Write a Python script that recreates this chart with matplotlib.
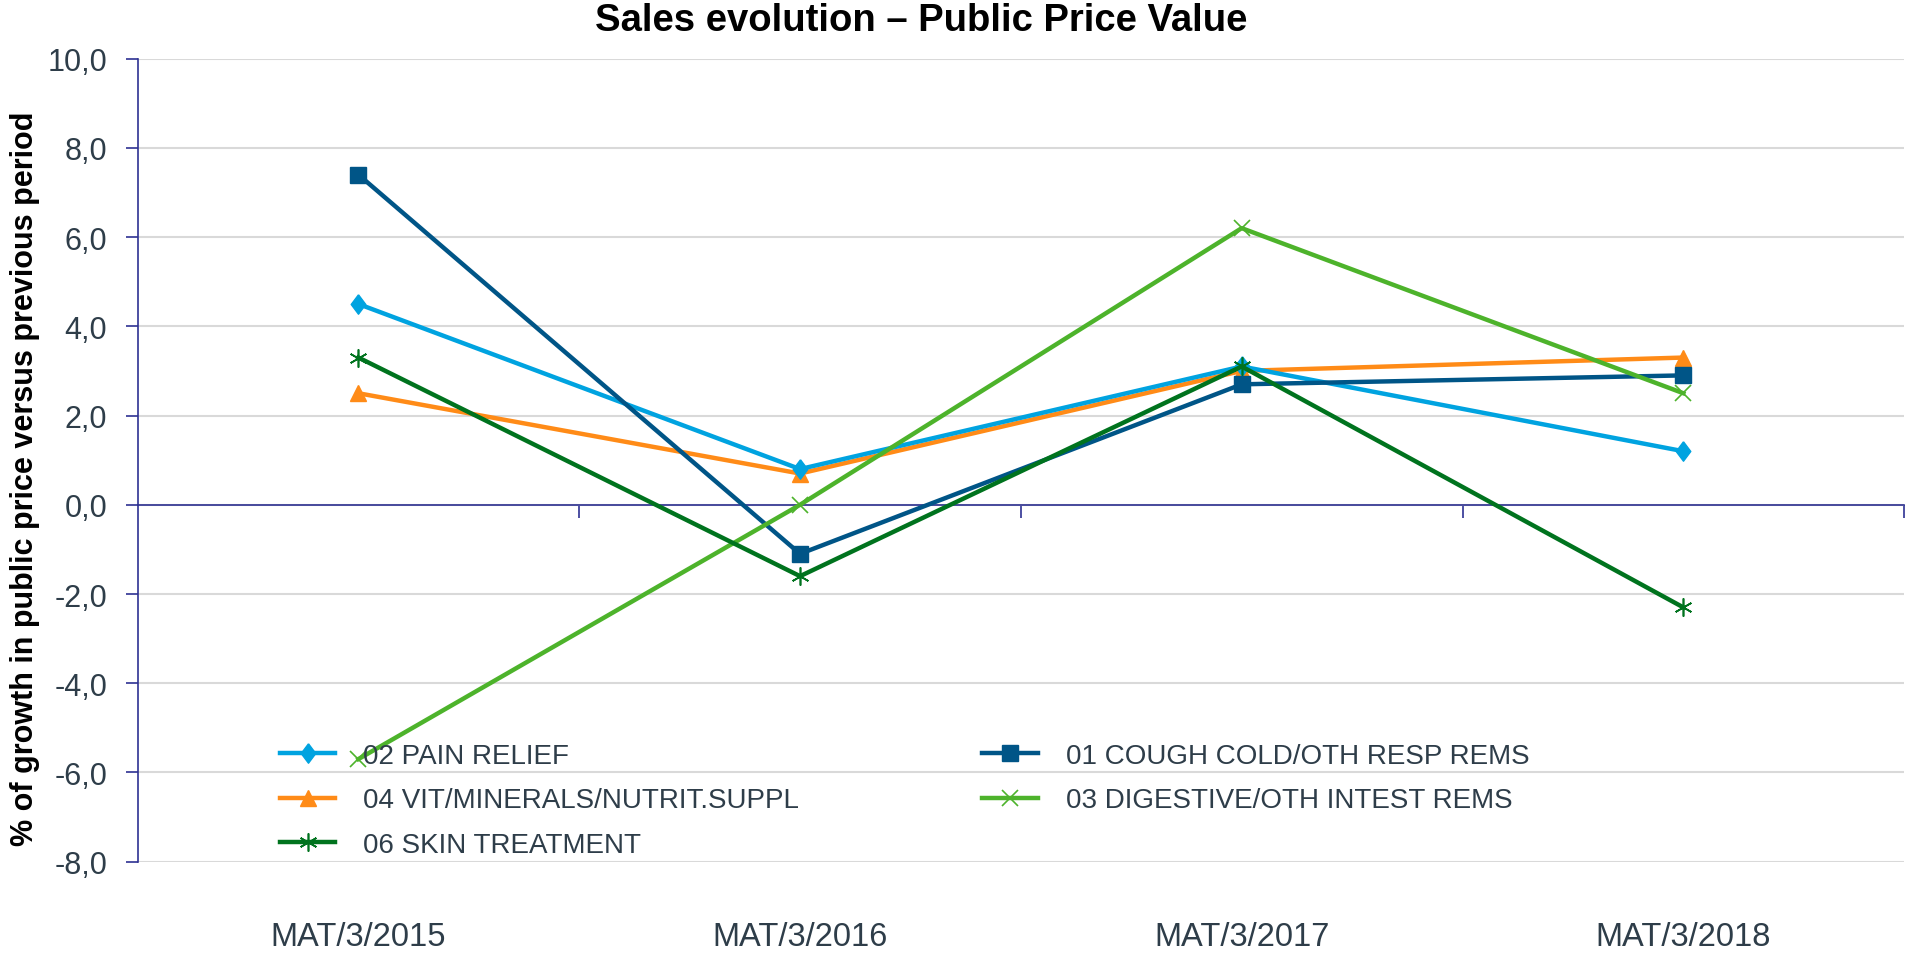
import matplotlib
matplotlib.use("Agg")
import matplotlib.pyplot as plt

categories = ["MAT/3/2015", "MAT/3/2016", "MAT/3/2017", "MAT/3/2018"]
pain_relief = [4.5, 0.8, 3.1, 1.2]
cough_cold = [7.4, -1.1, 2.7, 2.9]
vit_minerals = [2.5, 0.7, 3.0, 3.3]
digestive = [-5.7, 0.0, 6.2, 2.5]
skin_treatment = [3.3, -1.6, 3.1, -2.3]
yticks = [-8, -6, -4, -2, 0, 2, 4, 6, 8, 10]
ytick_labels = ["-8,0", "-6,0", "-4,0", "-2,0", "0,0", "2,0", "4,0", "6,0", "8,0", "10,0"]

plt.rcParams['font.family'] = ['Liberation Sans', 'DejaVu Sans']
TXT = "#2E3D49"
AXC = "#2E3192"

fig = plt.figure(figsize=(19.08, 9.54), dpi=100)
ax = fig.add_axes([0.0721, 0.0957, 0.9259, 0.8418])

x = list(range(len(categories)))
LW = 3.2
diamond = [(0, 1), (0.75, 0), (0, -1), (-0.75, 0), (0, 1)]
series = {}
series['pain'] = ax.plot(x, pain_relief, color="#00A3E0", lw=LW, marker=diamond, ms=14,
                         label="02 PAIN RELIEF", zorder=5)[0]
series['cough'] = ax.plot(x, cough_cold, color="#005587", lw=LW, marker='s', ms=11,
                          label="01 COUGH COLD/OTH RESP REMS", zorder=5)[0]
series['vit'] = ax.plot(x, vit_minerals, color="#FF8B17", lw=LW, marker='^', ms=12,
                        label="04 VIT/MINERALS/NUTRIT.SUPPL", zorder=4)[0]
series['dig'] = ax.plot(x, digestive, color="#4DB32B", lw=LW, marker='x', ms=11, mew=1.2,
                        label="03 DIGESTIVE/OTH INTEST REMS", zorder=5)[0]
series['skin'] = ax.plot(x, skin_treatment, color="#00731E", lw=LW, marker=(6, 2, 0), ms=13, mew=1.2,
                         label="06 SKIN TREATMENT", zorder=6)[0]

ax.set_xlim(-0.5, len(categories) - 0.5)
ax.set_ylim(-8, 10)
ax.set_yticks(yticks)
ax.set_yticklabels(ytick_labels)
ax.yaxis.grid(True, color="#D9D9D9", lw=1.5)
ax.set_axisbelow(True)
ax.tick_params(axis='y', direction='out', length=9, width=1.2, color=AXC,
               labelsize=22, labelcolor=TXT, pad=13)

for s in ['top', 'right']:
    ax.spines[s].set_visible(False)
ax.spines['left'].set_color(AXC)
ax.spines['left'].set_linewidth(1.2)
ax.spines['bottom'].set_position(('data', 0))
ax.spines['bottom'].set_color(AXC)
ax.spines['bottom'].set_linewidth(1.2)

boundaries = [i + 0.5 for i in x]
ax.set_xticks(boundaries)
ax.set_xticklabels([])
ax.tick_params(axis='x', direction='out', length=9, width=1.2, color=AXC)

sec = ax.secondary_xaxis('bottom')
sec.set_xticks(x)
sec.set_xticklabels(categories)
sec.spines['bottom'].set_visible(False)
sec.tick_params(axis='x', length=0, labelsize=23.5, labelcolor=TXT, pad=43)

ax.set_ylabel("% of growth in public price versus previous period", fontsize=22,
              fontweight='bold', color='black')
ax.yaxis.set_label_coords(-0.055, 0.478)

fig.suptitle("Sales evolution \u2013 Public Price Value", fontsize=27.5, fontweight='bold',
             x=0.483, y=0.997, va='top')

handles = [series['pain'], series['vit'], series['skin'], series['cough'], series['dig']]
leg = ax.legend(handles=handles, labels=[h.get_label() for h in handles], ncol=2,
                loc='upper left', bbox_to_anchor=(266 / 1908, 1 - 730 / 954),
                bbox_transform=fig.transFigure, frameon=False, borderpad=0,
                fontsize=20, labelcolor=TXT, handlelength=2.0, handletextpad=1.0,
                columnspacing=6.6, labelspacing=0.66)

fig.savefig("out.png", dpi=100)
